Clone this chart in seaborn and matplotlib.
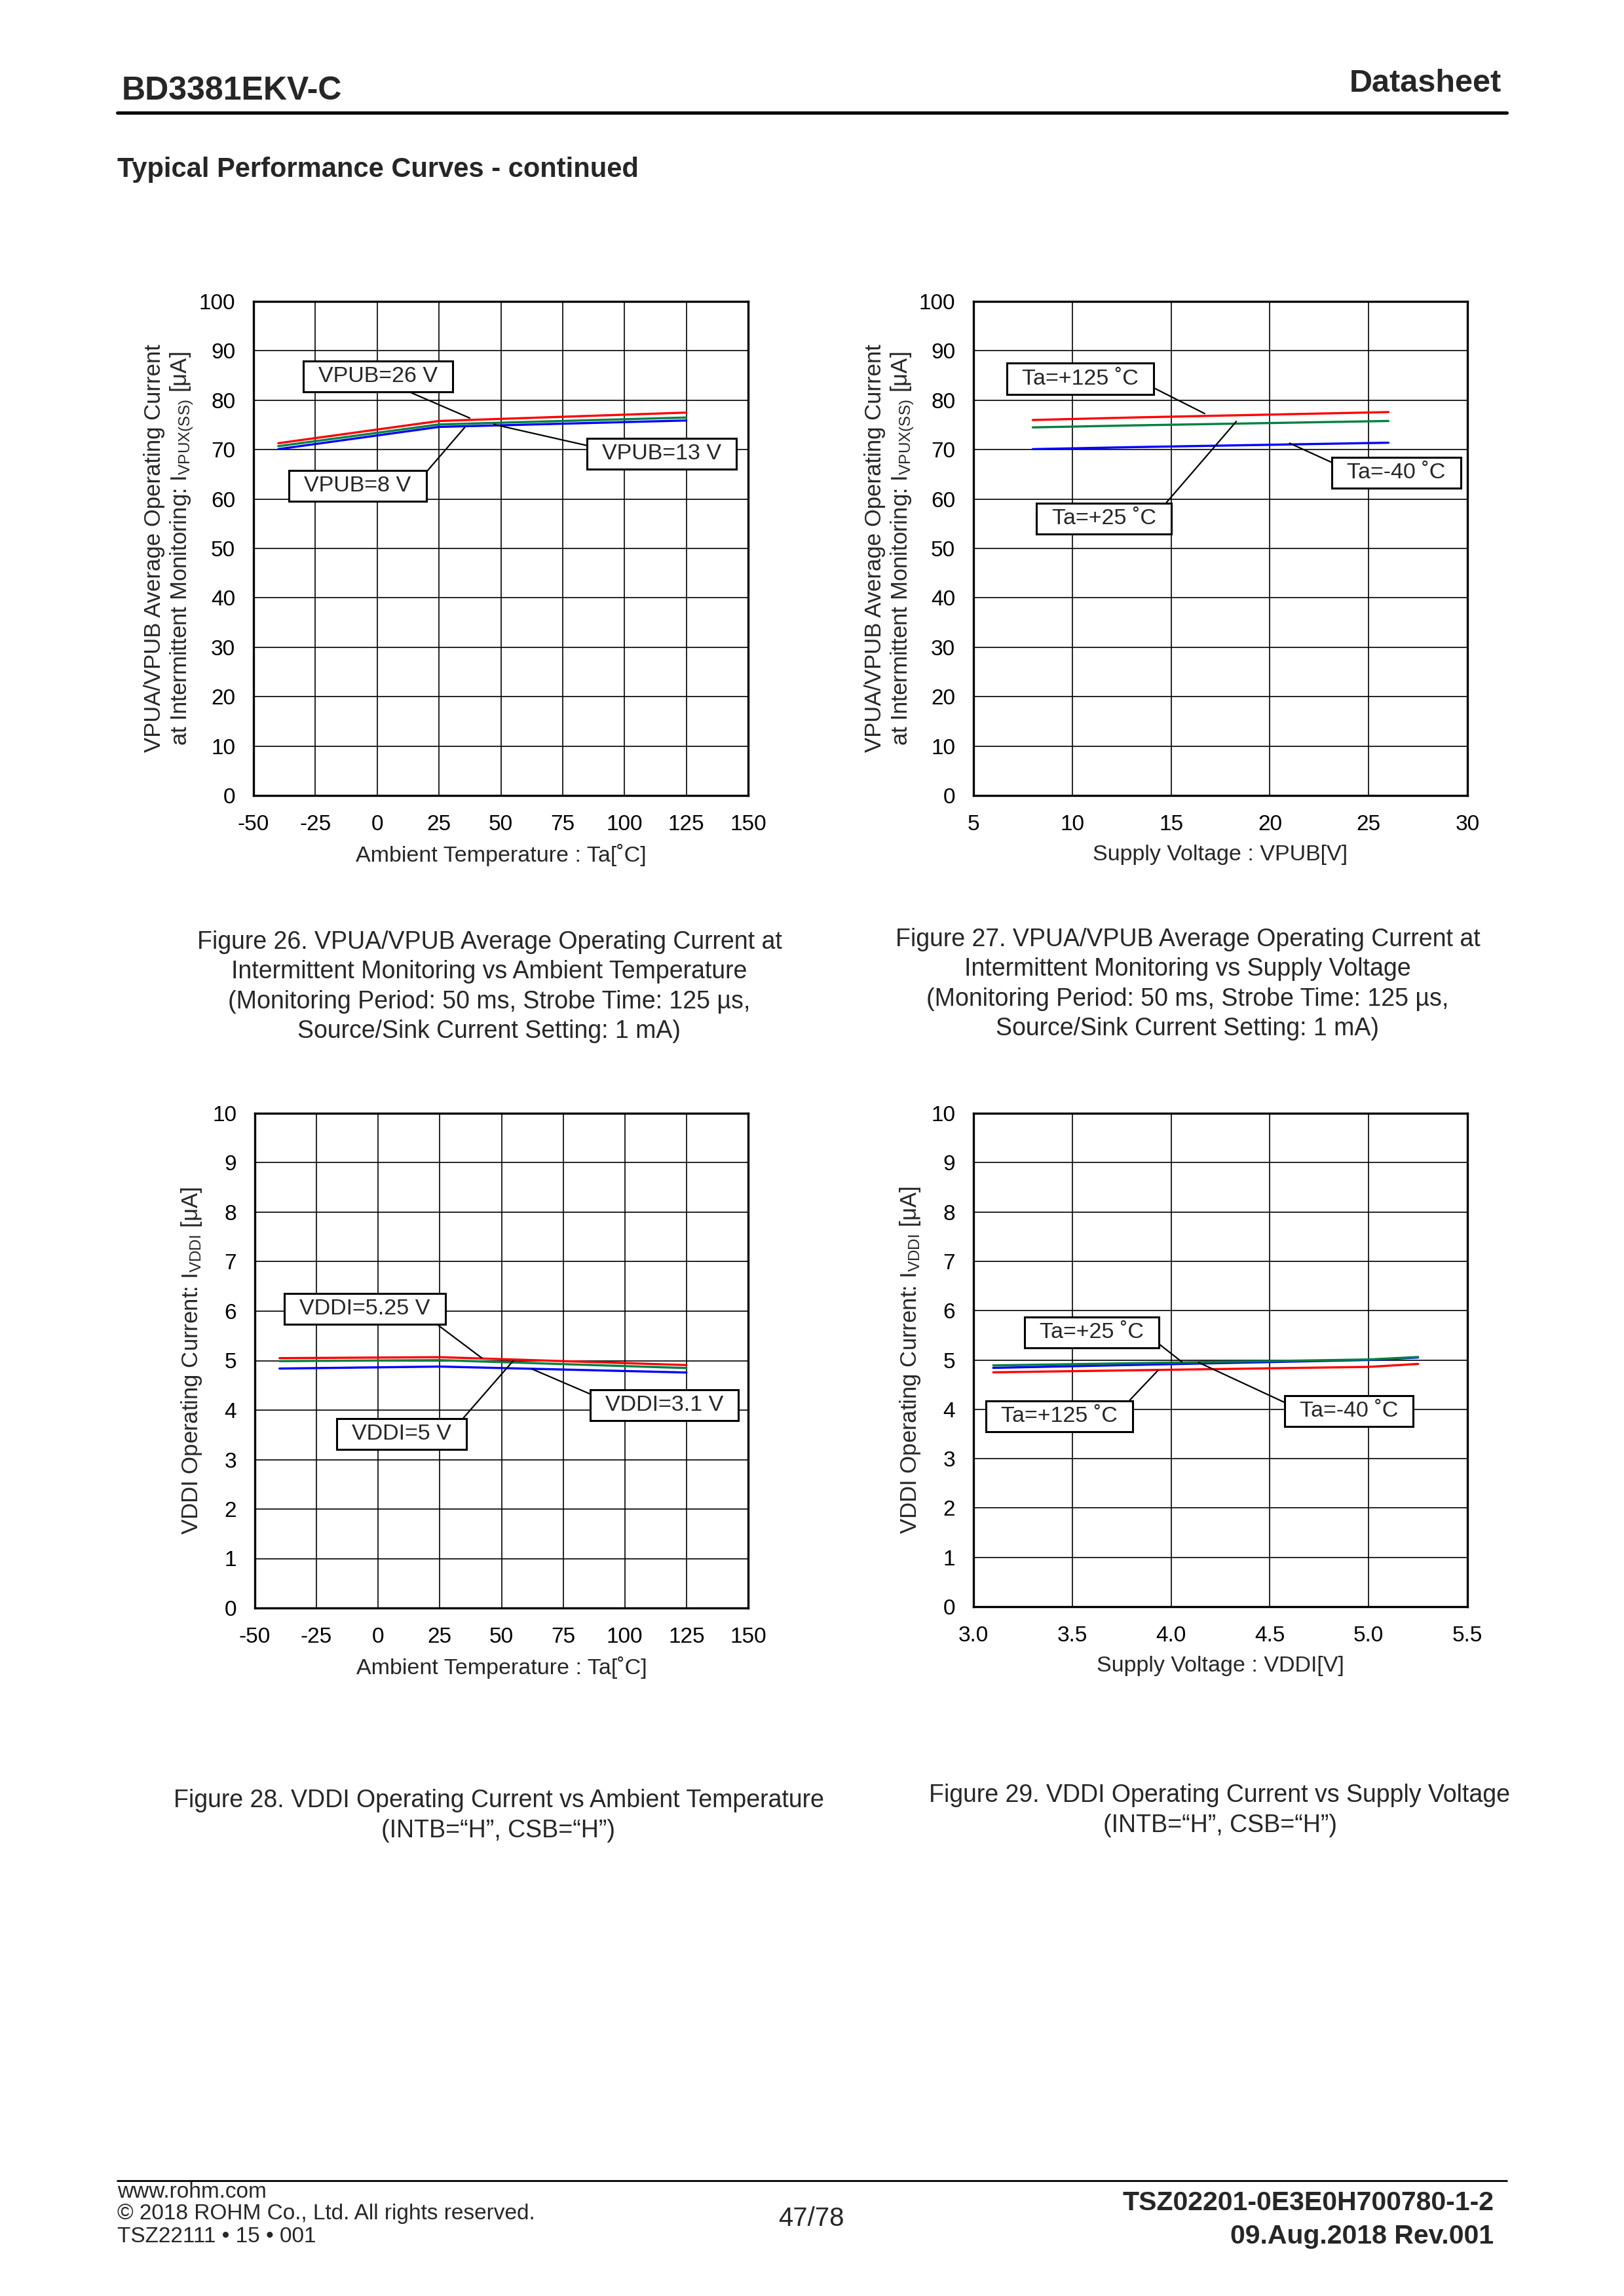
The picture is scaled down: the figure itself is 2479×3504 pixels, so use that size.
import matplotlib
matplotlib.use("Agg")
import matplotlib.pyplot as plt
from matplotlib.path import Path
import seaborn as sns
import pandas as pd

# ---------------- data ----------------
# Figure 26: current vs ambient temperature (VPUB series)
ta_fig26 = [-40, 25, 125]
vpub26_fig26 = [71.3, 75.8, 77.5]
vpub13_fig26 = [70.7, 75.1, 76.5]
vpub8_fig26 = [70.1, 74.6, 75.9]

# Figure 27: current vs supply voltage VPUB (temperature series)
vpub_fig27 = [8, 13, 26]
ta125_fig27 = [76.0, 76.5, 77.6]
ta25_fig27 = [74.5, 74.9, 75.8]
tam40_fig27 = [70.1, 70.5, 71.4]

# Figure 28: VDDI current vs ambient temperature (VDDI series)
ta_fig28 = [-40, 25, 125]
vddi525_fig28 = [5.05, 5.07, 4.91]
vddi5_fig28 = [4.99, 5.01, 4.85]
vddi31_fig28 = [4.84, 4.88, 4.76]

# Figure 29: VDDI current vs supply voltage VDDI (temperature series)
vddi_fig29 = [3.1, 5.0, 5.25]
tam40_fig29 = [4.84, 5.00, 5.05]
ta25_fig29 = [4.89, 5.01, 5.06]
ta125_fig29 = [4.75, 4.86, 4.92]

x_ticks_ta = [-50, -25, 0, 25, 50, 75, 100, 125, 150]
x_ticks_vpub = [5, 10, 15, 20, 25, 30]
x_ticks_vddi = [3.0, 3.5, 4.0, 4.5, 5.0, 5.5]
x_ticklabels_vddi = ["3.0", "3.5", "4.0", "4.5", "5.0", "5.5"]
y_ticks_100 = list(range(0, 101, 10))
y_ticks_10 = list(range(0, 11, 1))

RED, GREEN, BLUE = "#FF0000", "#008040", "#0000FF"

# ---------------- style ----------------
sns.set_style("white")
plt.rcParams["font.family"] = ["Liberation Sans", "DejaVu Sans"]
plt.rcParams["mathtext.fontset"] = "custom"
plt.rcParams["mathtext.rm"] = "Liberation Sans"
plt.rcParams["mathtext.it"] = "Liberation Sans:italic"

W, H = 2479, 3504
fig = plt.figure(figsize=(W / 100, H / 100), dpi=100)
fig.patch.set_facecolor("white")


def fx(px):
    return px / W


def fy(py):
    return 1 - py / H


def wide_box(x0, y0, width, height, mutation_size):
    padx = 0.68 * mutation_size
    pady = 0.24 * mutation_size
    xa, ya = x0 - padx, y0 - pady
    xb, yb = x0 + width + padx, y0 + height + pady
    return Path([(xa, ya), (xb, ya), (xb, yb), (xa, yb), (xa, ya)],
                [Path.MOVETO, Path.LINETO, Path.LINETO, Path.LINETO, Path.CLOSEPOLY])


def make_df(x, series):
    rows = []
    for name, vals in series:
        for xv, yv in zip(x, vals):
            rows.append({"x": xv, "y": yv, "s": name})
    return pd.DataFrame(rows)


def draw(ax, x, series, colors, xlim, xticks, xticklabels, ylim, yticks,
         xlabel, ylabel, ylabel_x, labels):
    df = make_df(x, series)
    names = [n for n, _ in series]
    sns.lineplot(data=df, x="x", y="y", hue="s", hue_order=names,
                 palette=dict(zip(names, colors)), linewidth=2.4,
                 legend=False, ax=ax, zorder=3)
    ax.set_xlim(*xlim)
    ax.set_ylim(*ylim)
    ax.set_xticks(xticks)
    ax.set_xticklabels(xticklabels)
    ax.set_yticks(yticks)
    ax.tick_params(axis="both", length=0, labelsize=24, colors="black")
    ax.tick_params(axis="y", pad=20)
    ax.tick_params(axis="x", pad=21)
    ax.grid(True, color="black", linewidth=1.2, zorder=1)
    ax.set_axisbelow(True)
    for sp in ax.spines.values():
        sp.set_visible(True)
        sp.set_color("black")
        sp.set_linewidth(2.4)
    ax.set_xlabel(xlabel, fontsize=24.5)
    ax.set_ylabel(ylabel, fontsize=25, linespacing=1.2)
    ax.xaxis.set_label_coords(0.5, -0.12)
    ax.xaxis.label.set_verticalalignment("center")
    ax.yaxis.set_label_coords(ylabel_x, 0.5)
    ax.yaxis.label.set_verticalalignment("center")
    ax.yaxis.label.set_multialignment("center")
    for text, xy, xytext, rel in labels:
        ax.annotate(text, xy=xy, xytext=xytext, textcoords="data",
                    ha="center", va="center", fontsize=24.5, zorder=5,
                    bbox=dict(boxstyle=wide_box, fc="white", ec="black", lw=2.2),
                    arrowprops=dict(arrowstyle="-", color="black", lw=1.6,
                                    shrinkA=0, shrinkB=0, relpos=rel))


ylabel_top = ("VPUA/VPUB Average Operating Current\n"
              "at Intermittent Monitoring: I$_{\\mathrm{VPUX(SS)}}$ [μA]")
ylabel_bot = "VDDI Operating Current: I$_{\\mathrm{VDDI}}$ [μA]"

ax1 = fig.add_axes([fx(387), fy(1214), fx(755), 754 / H])
draw(ax1, ta_fig26,
     [("26", vpub26_fig26), ("13", vpub13_fig26), ("8", vpub8_fig26)],
     [RED, GREEN, BLUE], (-50, 150), x_ticks_ta, [str(v) for v in x_ticks_ta],
     (0, 100), y_ticks_100, "Ambient Temperature : Ta[˚C]", ylabel_top, -0.170,
     [("VPUB=26 V", (37.4, 76.4), (0.35, 84.85), (0.656, 0.0)),
      ("VPUB=13 V", (47.2, 75.1), (115.0, 69.2), (0.0, 0.73)),
      ("VPUB=8 V", (35.4, 74.5), (-7.9, 62.65), (1.0, 0.31))])

ax2 = fig.add_axes([fx(1486), fy(1214), fx(754), 754 / H])
draw(ax2, vpub_fig27,
     [("125", ta125_fig27), ("25", ta25_fig27), ("-40", tam40_fig27)],
     [RED, GREEN, BLUE], (5, 30), x_ticks_vpub, [str(v) for v in x_ticks_vpub],
     (0, 100), y_ticks_100, "Supply Voltage : VPUB[V]", ylabel_top, -0.169,
     [("Ta=+125 ˚C", (16.7, 77.3), (10.4, 84.35), (1.0, 0.43)),
      ("Ta=-40 ˚C", (21.0, 71.3), (26.4, 65.35), (0.0, 0.66)),
      ("Ta=+25 ˚C", (18.3, 75.7), (11.6, 56.05), (1.0, 0.69))])

ax3 = fig.add_axes([fx(389), fy(2454), fx(753), 755 / H])
draw(ax3, ta_fig28,
     [("5.25", vddi525_fig28), ("5", vddi5_fig28), ("3.1", vddi31_fig28)],
     [RED, GREEN, BLUE], (-50, 150), x_ticks_ta, [str(v) for v in x_ticks_ta],
     (0, 10), y_ticks_10, "Ambient Temperature : Ta[˚C]", ylabel_bot, -0.128,
     [("VDDI=5.25 V", (42.1, 5.05), (-5.45, 6.045), (1.0, 0.0)),
      ("VDDI=3.1 V", (62.4, 4.83), (116.0, 4.10), (0.0, 0.73)),
      ("VDDI=5 V", (54.8, 5.0), (9.55, 3.515), (1.0, 0.62))])

ax4 = fig.add_axes([fx(1486), fy(2452), fx(754), 753 / H])
draw(ax4, vddi_fig29,
     [("-40", tam40_fig29), ("25", ta25_fig29), ("125", ta125_fig29)],
     [BLUE, GREEN, RED], (3.0, 5.5), x_ticks_vddi, x_ticklabels_vddi,
     (0, 10), y_ticks_10, "Supply Voltage : VDDI[V]", ylabel_bot, -0.128,
     [("Ta=+25 ˚C", (4.055, 4.96), (3.598, 5.558), (1.0, 0.52)),
      ("Ta=+125 ˚C", (3.934, 4.79), (3.4355, 3.86), (1.0, 0.67)),
      ("Ta=-40 ˚C", (4.139, 4.95), (4.90, 3.965), (0.0, 0.58))])

# ---------------- page text ----------------
fig.text(fx(186), fy(139), "BD3381EKV-C", fontsize=36, fontweight="bold",
         ha="left", va="center")
fig.text(fx(2292), fy(127), "Datasheet", fontsize=35, fontweight="bold",
         ha="right", va="center")
fig.add_artist(plt.Line2D([fx(179), fx(2300)], [fy(172), fy(172)],
                          color="black", lw=3.6, transform=fig.transFigure))
fig.text(fx(179), fy(259), "Typical Performance Curves - continued",
         fontsize=30, fontweight="bold", ha="left", va="center")

cap_kw = dict(fontsize=27, ha="center", va="center", linespacing=1.33,
              multialignment="center")
fig.text(fx(747), fy(1506),
         "Figure 26. VPUA/VPUB Average Operating Current at\n"
         "Intermittent Monitoring vs Ambient Temperature\n"
         "(Monitoring Period: 50 ms, Strobe Time: 125 µs,\n"
         "Source/Sink Current Setting: 1 mA)", **cap_kw)
fig.text(fx(1813), fy(1502),
         "Figure 27. VPUA/VPUB Average Operating Current at\n"
         "Intermittent Monitoring vs Supply Voltage\n"
         "(Monitoring Period: 50 ms, Strobe Time: 125 µs,\n"
         "Source/Sink Current Setting: 1 mA)", **cap_kw)
fig.text(fx(761), fy(2771),
         "Figure 28. VDDI Operating Current vs Ambient Temperature\n"
         "(INTB=“H”, CSB=“H”)", **cap_kw)
fig.text(fx(1862), fy(2763),
         "Figure 29. VDDI Operating Current vs Supply Voltage\n"
         "(INTB=“H”, CSB=“H”)", **cap_kw)

# ---------------- footer ----------------
fig.add_artist(plt.Line2D([fx(179), fx(2300)], [fy(3328), fy(3328)],
                          color="black", lw=2.0, transform=fig.transFigure))
fig.text(fx(179), fy(3346), "www.rohm.com", fontsize=24, ha="left", va="center")
fig.text(fx(179), fy(3378), "© 2018 ROHM Co., Ltd. All rights reserved.",
         fontsize=24, ha="left", va="center")
fig.text(fx(179), fy(3413), "TSZ22111 • 15 • 001", fontsize=24,
         ha="left", va="center")
fig.text(fx(1238), fy(3386), "47/78", fontsize=29, ha="center", va="center")
fig.text(fx(2280), fy(3362), "TSZ02201-0E3E0H700780-1-2", fontsize=29.5,
         fontweight="bold", ha="right", va="center")
fig.text(fx(2280), fy(3413), "09.Aug.2018 Rev.001", fontsize=29.5,
         fontweight="bold", ha="right", va="center")

fig.savefig("out.png", dpi=100, facecolor="white")
